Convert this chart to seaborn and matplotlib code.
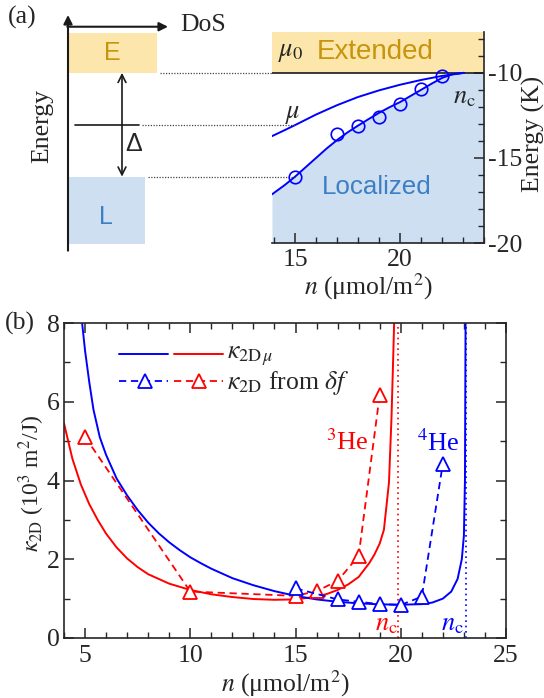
import numpy as np
import pandas as pd
import matplotlib
matplotlib.use("Agg")
import matplotlib.pyplot as plt
from matplotlib.patches import Rectangle
from matplotlib.ticker import MultipleLocator
import seaborn as sns

# ---------------- panel (a): 4He energy levels vs. density ----------------
n_edge = [13.9, 14.5, 15.0, 15.5, 16.0, 16.5, 17.0, 17.5, 18.0, 18.5, 19.0,
          19.5, 20.0, 20.5, 21.0, 21.5, 22.0, 22.5, 23.05]
E_edge = [-17.14, -16.6, -16.1, -15.55, -15.0, -14.45, -13.95, -13.5, -13.1,
          -12.72, -12.35, -12.02, -11.72, -11.36, -11.0, -10.64, -10.3, -10.08, -10.0]
n_mu = [13.9, 14.5, 15.0, 16.0, 17.0, 18.0, 19.0, 20.0, 21.0, 22.0, 23.05]
E_mu = [-13.72, -13.37, -13.07, -12.45, -11.9, -11.42, -11.03, -10.7, -10.42, -10.18, -10.0]
n_circ = [15, 17, 18, 19, 20, 21, 22]
E_circ = [-16.1, -13.6, -13.12, -12.61, -11.82, -10.96, -10.2]
E_mu0 = -10.0

# ---------------- panel (b): compressibility ----------------
n_3he_mu = [4.0, 4.4, 4.8, 5.2, 5.6, 6.0, 6.5, 7.0, 7.5, 8.0, 9.0, 10.0, 11.0,
            12.0, 13.0, 14.0, 15.0, 16.0, 16.5, 17.0, 17.5, 18.0, 18.5, 18.75,
            19.0, 19.2, 19.44, 19.56, 19.65, 19.7]
k_3he_mu = [5.45, 4.55, 3.9, 3.4, 3.0, 2.65, 2.3, 2.02, 1.8, 1.62, 1.38, 1.22,
            1.11, 1.04, 0.99, 0.97, 0.98, 1.05, 1.12, 1.22, 1.36, 1.55, 1.9,
            2.12, 2.4, 2.75, 3.95, 5.6, 7.3, 8.3]
n_4he_mu = [4.84, 5.0, 5.2, 5.4, 5.7, 6.0, 6.5, 7.0, 7.5, 8.0, 8.5, 9.0, 9.5,
            10.0, 10.5, 11.0, 12.0, 13.0, 14.0, 15.0, 16.0, 17.0, 18.0, 19.0,
            20.0, 21.0, 21.5, 22.0, 22.4, 22.7, 22.9, 23.0, 23.05, 23.08]
k_4he_mu = [8.1, 7.3, 6.5, 5.8, 5.1, 4.65, 4.05, 3.62, 3.25, 2.93, 2.66, 2.43,
            2.23, 2.05, 1.9, 1.76, 1.52, 1.34, 1.19, 1.07, 0.98, 0.92, 0.88,
            0.855, 0.845, 0.86, 0.9, 1.0, 1.18, 1.5, 2.0, 2.6, 4.0, 8.2]
n_3he_df = [5, 10, 15, 16, 17, 18, 19]
k_3he_df = [5.11, 1.18, 1.07, 1.19, 1.45, 2.09, 6.18]
n_4he_df = [15, 17, 18, 19, 20, 21, 22]
k_4he_df = [1.26, 0.98, 0.92, 0.86, 0.84, 1.05, 4.43]
nc_3he = 19.85
nc_4he = 23.1

RED, BLUE = "#ff0000", "#0000ff"
YELLOW_FILL, GOLD = "#fde6ab", "#c8940b"
BLUE_FILL, BLUE_TXT = "#cddff1", "#3d7fc4"
SANS = ["Liberation Sans", "DejaVu Sans"]

sns.set_theme(style="ticks")
plt.rcParams.update({
    "font.family": ["Liberation Serif", "DejaVu Serif"],
    "mathtext.fontset": "stix",
    "axes.unicode_minus": False,
    "xtick.direction": "in", "ytick.direction": "in",
    "axes.linewidth": 1.2,
    "xtick.major.width": 1.1, "ytick.major.width": 1.1,
    "xtick.minor.width": 1.0, "ytick.minor.width": 1.0,
})

W, H = 544, 698
fig = plt.figure(figsize=(W / 100, H / 100), dpi=100)


def rect(l, t, r, b):
    return [l / W, 1 - b / H, (r - l) / W, (b - t) / H]


ax_s = fig.add_axes(rect(0, 32, 272, 243))
ax_a = fig.add_axes(rect(272, 32, 484, 243))
ax_b = fig.add_axes(rect(64, 323, 506, 638))

TICK_FS = 18.5
LAB_FS = 18.5

# ---------------- panel (a) right: data ----------------
ylo, yhi = -20, -7.6
ax_a.set_xlim(13.9, 24.0)
ax_a.set_ylim(ylo, yhi)
ax_a.axhspan(E_mu0, yhi, color=YELLOW_FILL, lw=0, zorder=0)
fill_n = n_edge + [24.0]
fill_E = E_edge + [E_mu0]
ax_a.fill_between(fill_n, ylo, fill_E, color=BLUE_FILL, lw=0, zorder=0)
ax_a.axhline(E_mu0, color="k", lw=1.2, zorder=1)

df_edge = pd.DataFrame({"n": n_edge, "E": E_edge})
df_mu = pd.DataFrame({"n": n_mu, "E": E_mu})
df_circ = pd.DataFrame({"n": n_circ, "E": E_circ})
sns.lineplot(data=df_edge, x="n", y="E", ax=ax_a, color=BLUE, lw=1.4, sort=False)
sns.lineplot(data=df_mu, x="n", y="E", ax=ax_a, color=BLUE, lw=1.4, sort=False)
ax_a.plot(df_circ["n"], df_circ["E"], ls="none", marker="o", ms=9,
          mfc="none", mec=BLUE, mew=1.2, zorder=3)

ax_a.text(14.2, -8.85, r"$\mu_0$", fontsize=19, ha="left", va="center")
ax_a.text(18.8, -8.8, "Extended", fontsize=20, color=GOLD, ha="center",
          va="center", family=SANS)
ax_a.text(18.9, -16.7, "Localized", fontsize=18.7, color=BLUE_TXT, ha="center",
          va="center", family=SANS)
ax_a.text(14.9, -12.5, r"$\mu$", fontsize=19, ha="center", va="center")
ax_a.text(23.05, -11.5, r"$n_{\rm c}$", fontsize=19, ha="center", va="center")

for sp in ("left", "top"):
    ax_a.spines[sp].set_visible(False)
ax_a.yaxis.tick_right()
ax_a.xaxis.set_major_locator(MultipleLocator(5))
ax_a.xaxis.set_minor_locator(MultipleLocator(1))
ax_a.yaxis.set_major_locator(MultipleLocator(5))
ax_a.yaxis.set_minor_locator(MultipleLocator(1))
ax_a.tick_params(axis="x", which="both", bottom=True, top=False,
                 labelsize=TICK_FS, pad=4)
ax_a.tick_params(axis="y", which="both", left=False, right=True,
                 labelright=True, labelleft=False, labelsize=TICK_FS, pad=3)
ax_a.tick_params(which="major", length=7)
ax_a.tick_params(which="minor", length=4)
ax_a.set_xlabel("")
ax_a.set_ylabel("")
ax_a.text(0.453, -0.205, r"$n$ (μmol/m$^2$)", transform=ax_a.transAxes,
          fontsize=LAB_FS, ha="center", va="center")
ax_a.text(1.235, 0.517, "Energy (K)", transform=ax_a.transAxes, rotation=90,
          fontsize=LAB_FS, ha="center", va="center")

# ---------------- panel (a) left: schematic ----------------
ax_s.set_xlim(0, 272)
ax_s.set_ylim(ylo, yhi)
ax_s.axis("off")
E_ext = E_mu0
E_muref = E_mu[n_mu.index(15.0)]
E_loc = E_circ[n_circ.index(15)]

ax_s.add_patch(Rectangle((69, E_ext), 88, -7.65 - E_ext, color=YELLOW_FILL,
                         lw=0, clip_on=False))
ax_s.add_patch(Rectangle((69, -20.05), 76, E_loc + 20.05, color=BLUE_FILL,
                         lw=0, clip_on=False))
ax_s.text(112, -8.85, "E", fontsize=18, color=GOLD, ha="center", va="center",
          family=SANS)
ax_s.text(106, -18.45, "L", fontsize=18, color=BLUE_TXT, ha="center", va="center",
          family=SANS)
arrow_kw = dict(arrowstyle="-|>", color="k", lw=1.5, mutation_scale=13,
                shrinkA=0, shrinkB=0)
ax_s.annotate("", xy=(68, -6.6), xytext=(68, -20.45), arrowprops=arrow_kw,
              annotation_clip=False)
ax_s.annotate("", xy=(168, -7.29), xytext=(67.3, -7.29), arrowprops=arrow_kw,
              annotation_clip=False)
ax_s.text(180, -7.2, "DoS", fontsize=LAB_FS, ha="left", va="center")
ax_s.text(42, -13.1, "Energy", fontsize=LAB_FS, rotation=90, ha="center",
          va="center")
ax_s.plot([75, 139], [E_muref, E_muref], color="k", lw=1.2, clip_on=False)
ax_s.annotate("", xy=(122, E_ext), xytext=(122, E_loc),
              arrowprops=dict(arrowstyle="<->", color="k", lw=1.2,
                              mutation_scale=14, shrinkA=0, shrinkB=0),
              annotation_clip=False)
ax_s.text(125, -14.2, "Δ", fontsize=18, ha="left", va="center", family=SANS)


def to_a(x_s, y):
    disp = ax_s.transData.transform((x_s, y))
    return ax_a.transData.inverted().transform(disp)[0]


dot_kw = dict(color="#444444", lw=0.9, ls=(0, (1, 1.2)), clip_on=False, zorder=2)
ax_a.plot([to_a(160, E_ext), 13.9], [E_ext, E_ext], **dot_kw)
ax_a.plot([to_a(142, E_muref), 15.0], [E_muref, E_muref], **dot_kw)
ax_a.plot([to_a(148, E_loc), 15.0], [E_loc, E_loc], **dot_kw)

fig.text(22 / W, 1 - 17 / H, "(a)", fontsize=LAB_FS, ha="center", va="center")
fig.text(20 / W, 1 - 323 / H, "(b)", fontsize=LAB_FS, ha="center", va="center")

# ---------------- panel (b) ----------------
ax_b.set_xlim(4, 25)
ax_b.set_ylim(0, 8)
for n_c, col in ((nc_3he, RED), (nc_4he, BLUE)):
    ax_b.axvline(n_c, color=col, lw=1.2, ls=(0, (1, 2.2)), zorder=1)

sns.lineplot(x=n_3he_mu, y=k_3he_mu, ax=ax_b, color=RED, lw=1.4, sort=False)
sns.lineplot(x=n_4he_mu, y=k_4he_mu, ax=ax_b, color=BLUE, lw=1.4, sort=False)
dash = (0, (4, 2.6))
for nn, kk, col in ((n_3he_df, k_3he_df, RED), (n_4he_df, k_4he_df, BLUE)):
    ax_b.plot(nn, kk, color=col, lw=1.3, ls=dash, marker="^", ms=9.5,
              mfc="white", mec=col, mew=1.3, zorder=3)

ax_b.text(17.48, 4.97, r"$^3$He", fontsize=19, color=RED, ha="center", va="center")
ax_b.text(21.8, 4.95, r"$^4$He", fontsize=19, color=BLUE, ha="center", va="center")
ax_b.text(19.3, 0.33, r"$n_{\rm c}$", fontsize=19, color=RED, ha="center", va="center")
ax_b.text(22.45, 0.33, r"$n_{\rm c}$", fontsize=19, color=BLUE, ha="center", va="center")

# key
tr = ax_b.transAxes
ax_b.plot([0.124, 0.235], [0.902, 0.902], color=BLUE, lw=1.4, transform=tr)
ax_b.plot([0.249, 0.360], [0.902, 0.902], color=RED, lw=1.4, transform=tr)
ax_b.plot([0.124, 0.235], [0.816, 0.816], color=BLUE, lw=1.3, ls=dash, transform=tr)
ax_b.plot([0.249, 0.360], [0.816, 0.816], color=RED, lw=1.3, ls=dash, transform=tr)
ax_b.plot([0.183], [0.816], marker="^", ms=9.5, mfc="white", mec=BLUE, mew=1.3,
          transform=tr)
ax_b.plot([0.305], [0.816], marker="^", ms=9.5, mfc="white", mec=RED, mew=1.3,
          transform=tr)
ax_b.text(0.369, 0.895, r"$\kappa_{\mathrm{2D}\,\mu}$", transform=tr,
          fontsize=LAB_FS, ha="left", va="center")
ax_b.text(0.369, 0.808, r"$\kappa_{\mathrm{2D}}$ from $\delta f$", transform=tr,
          fontsize=LAB_FS, ha="left", va="center")

ax_b.xaxis.set_major_locator(MultipleLocator(5))
ax_b.xaxis.set_minor_locator(MultipleLocator(1))
ax_b.yaxis.set_major_locator(MultipleLocator(2))
ax_b.yaxis.set_minor_locator(MultipleLocator(1))
ax_b.tick_params(which="both", top=True, right=True, labelsize=TICK_FS)
ax_b.tick_params(axis="x", pad=5)
ax_b.tick_params(axis="y", pad=3)
ax_b.tick_params(which="major", length=7)
ax_b.tick_params(which="minor", length=4)
ax_b.set_xlabel("")
ax_b.set_ylabel("")
ax_b.text(0.5, -0.145, r"$n$ (μmol/m$^2$)", transform=tr, fontsize=LAB_FS,
          ha="center", va="center")
ax_b.text(-0.072, 0.492, r"$\kappa_{\mathrm{2D}}$ (10$^3$ m$^2$/J)", transform=tr,
          rotation=90, fontsize=17, ha="center", va="center")

fig.savefig("out.png", dpi=100)
